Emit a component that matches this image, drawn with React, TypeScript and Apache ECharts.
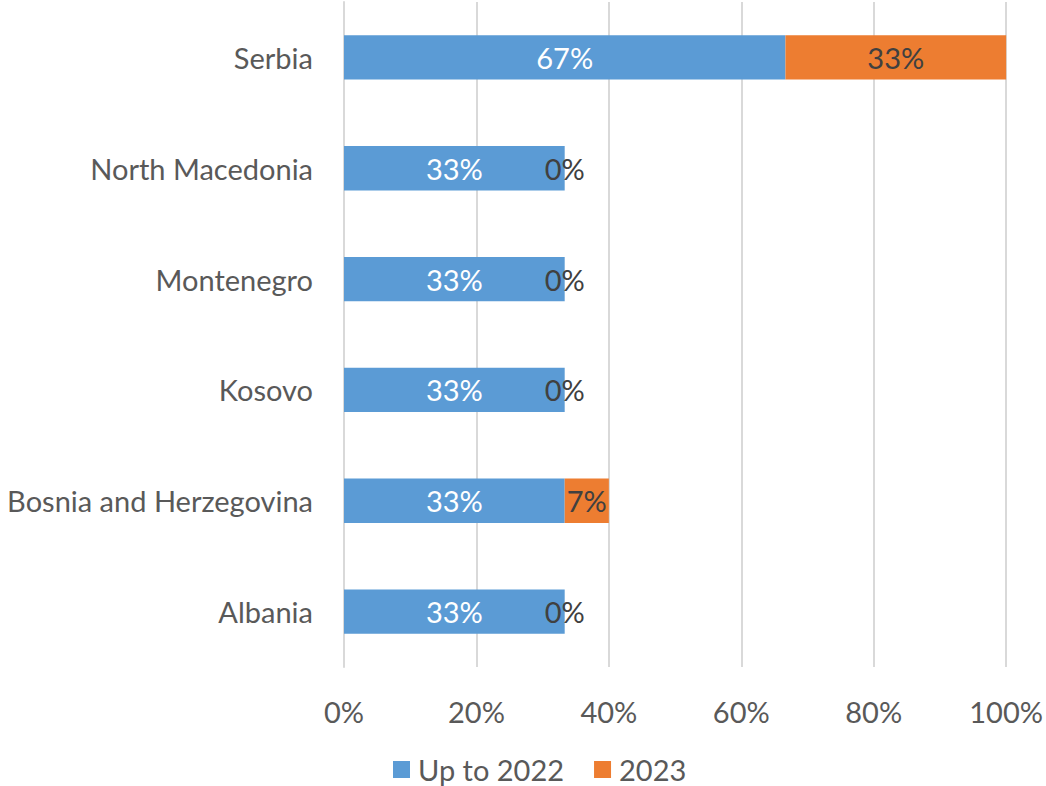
import React, { useEffect, useRef } from "react";
import * as echarts from "echarts";

const categories = ["Albania", "Bosnia and Herzegovina", "Kosovo", "Montenegro", "North Macedonia", "Serbia"];
const upTo2022 = [33.33, 33.33, 33.33, 33.33, 33.33, 66.67];
const y2023 = [0, 6.67, 0, 0, 0, 33.33];
const seriesNames = ["Up to 2022", "2023"];

const FONT = "Lato, 'Open Sans', sans-serif";
const FS = 29;

export default function App() {
  const ref = useRef<HTMLDivElement>(null);
  useEffect(() => {
    const chart = echarts.init(ref.current!, null, { renderer: "svg" });
    chart.setOption({
      animation: false,
      textStyle: { fontFamily: FONT },
      grid: { left: 344, right: 31, top: 2, bottom: 119, containLabel: false },
      legend: {
        data: seriesNames,
        top: 755,
        padding: 0,
        left: 393,
        icon: "rect",
        itemWidth: 17,
        itemHeight: 17,
        itemGap: 30,
        textStyle: { fontSize: FS, color: "#595959", fontFamily: FONT, padding: [0, 0, 0, 3] },
      },
      xAxis: {
        type: "value",
        min: 0,
        max: 100,
        interval: 20,
        axisLabel: { formatter: "{value}%", fontSize: FS, color: "#595959", margin: 30, fontFamily: FONT },
        splitLine: { lineStyle: { color: "#d9d9d9", width: 2 } },
        axisLine: { show: false },
        axisTick: { show: false },
      },
      yAxis: {
        type: "category",
        data: categories,
        axisLabel: { fontSize: FS, color: "#595959", margin: 31, fontFamily: FONT },
        axisLine: { show: true, lineStyle: { color: "#d9d9d9", width: 2 } },
        axisTick: { show: false },
      },
      series: [
        {
          name: seriesNames[0],
          type: "bar",
          stack: "total",
          data: upTo2022,
          barCategoryGap: "60%",
          itemStyle: { color: "#5B9BD5" },
          label: {
            show: true,
            position: "inside",
            color: "#ffffff",
            fontSize: FS,
            fontFamily: FONT,
            formatter: (p: any) => Math.round(p.value) + "%",
          },
        },
        {
          name: seriesNames[1],
          type: "bar",
          stack: "total",
          data: y2023,
          barCategoryGap: "60%",
          itemStyle: { color: "#ED7D31" },
          label: {
            show: true,
            position: "inside",
            color: "#404040",
            fontSize: FS,
            fontFamily: FONT,
            formatter: (p: any) => Math.round(p.value) + "%",
          },
        },
      ],
    });
    return () => chart.dispose();
  }, []);
  return (
    <div
      ref={ref}
      style={{ position: "absolute", left: 0, top: 0, width: 1046, height: 786 }}
    />
  );
}
